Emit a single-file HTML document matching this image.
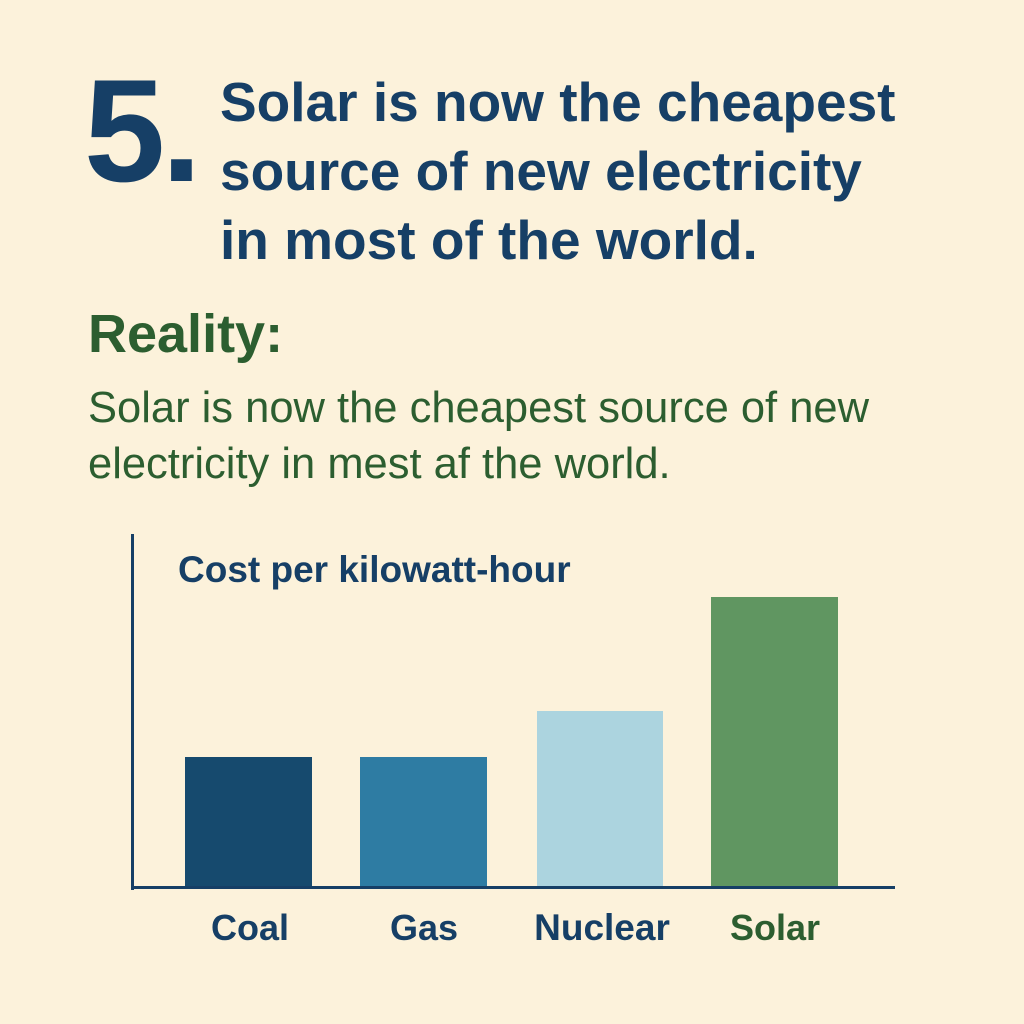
<!DOCTYPE html>
<html><head><meta charset="utf-8"><style>
html,body{margin:0;padding:0}
body{width:1024px;height:1024px;background:#fcf2db;position:relative;overflow:hidden;font-family:"Liberation Sans",sans-serif}
.a{position:absolute;white-space:nowrap}
.t{color:#163f66;font-weight:bold}
.g{color:#2c5e30}
.bar{position:absolute}
</style></head><body>
<div class="a t" style="left:84px;top:56px;font-size:146px;line-height:150px;letter-spacing:-4px">5.</div>
<div class="a t" style="left:220px;top:68px;font-size:55px;line-height:69px">Solar is now the cheapest<br>source of new electricity<br>in most of the world.</div>
<div class="a g" style="left:88px;top:302px;font-size:54px;font-weight:bold;line-height:64px">Reality:</div>
<div class="a g" style="left:88px;top:380px;font-size:43.5px;line-height:56px">Solar is now the cheapest source of new<br>electricity in mest af the world.</div>
<div class="a" style="left:131px;top:534px;width:3px;height:356px;background:#163f66"></div>
<div class="a" style="left:131px;top:886px;width:764px;height:3px;background:#163f66"></div>
<div class="a t" style="left:178px;top:548px;font-size:37px;line-height:44px">Cost per kilowatt-hour</div>
<div class="bar" style="left:185px;top:757px;width:127px;height:129px;background:#164a6e"></div>
<div class="bar" style="left:360px;top:757px;width:127px;height:129px;background:#2e7ca3"></div>
<div class="bar" style="left:537px;top:711px;width:126px;height:175px;background:#acd4df"></div>
<div class="bar" style="left:711px;top:597px;width:127px;height:289px;background:#609661"></div>
<div class="a t" style="left:150px;top:906px;width:200px;text-align:center;font-size:36px;line-height:44px">Coal</div>
<div class="a t" style="left:324px;top:906px;width:200px;text-align:center;font-size:36px;line-height:44px">Gas</div>
<div class="a t" style="left:502px;top:906px;width:200px;text-align:center;font-size:37px;line-height:44px">Nuclear</div>
<div class="a g" style="left:675px;top:906px;width:200px;text-align:center;font-size:36px;line-height:44px;font-weight:bold">Solar</div>
</body></html>
